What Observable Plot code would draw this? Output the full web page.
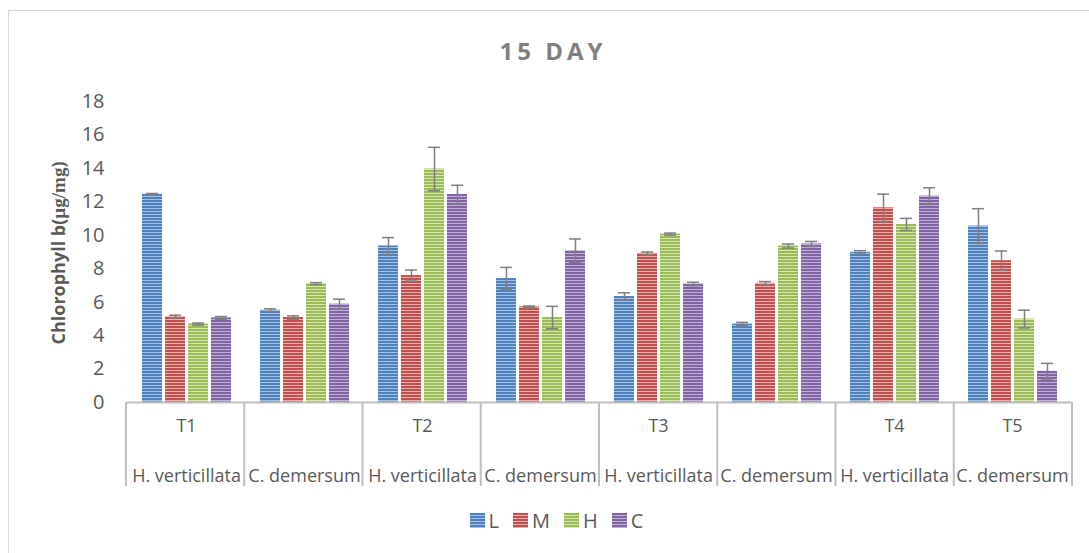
<!DOCTYPE html>
<html>
<head>
<meta charset="utf-8">
<script src="https://cdn.jsdelivr.net/npm/d3@7"></script>
<script src="https://cdn.jsdelivr.net/npm/@observablehq/plot@0.6"></script>
<style>
  html, body { margin:0; padding:0; background:#fff; }
  #wrap { position:relative; width:1089px; height:553px; overflow:hidden; font-family:"Open Sans", sans-serif; }
  #border { position:absolute; left:8px; top:10px; width:1100px; height:570px; border:1px solid #d9d9d9; box-sizing:border-box; }
  #title { position:absolute; left:8px; width:1090px; top:34px; text-align:center; font-weight:bold; font-size:24px; letter-spacing:4px; color:#7f7f7f; }
  #ylabel { position:absolute; left:58px; top:253px; transform:translate(-50%,-50%) rotate(-90deg); white-space:nowrap; font-weight:bold; font-size:18px; color:#595959; }
  #ylabel .u { font-family:"Liberation Serif", serif; font-size:19px; }
  #chart { position:absolute; left:0; top:0; }
  #legend { position:absolute; left:0; width:1089px; top:507px; display:flex; justify-content:center; padding-left:38px; box-sizing:border-box; font-size:20px; color:#595959; }
  .item { display:flex; align-items:center; margin-right:14px; }
  .sw { width:15px; height:15px; margin-right:4px; }
</style>
</head>
<body>
<div id="wrap">
  <div id="border"></div>
  <div id="title">15 DAY</div>
  <div id="chart"></div>
  <div id="ylabel">Chlorophyll b(<span class="u">µg/mg</span>)</div>
  <div id="legend"></div>
</div>
<script>
// ---- data ----
const topLabels = ["T1", "", "T2", "", "T3", "", "T4", "T5"];
const species = ["H. verticillata", "C. demersum", "H. verticillata", "C. demersum", "H. verticillata", "C. demersum", "H. verticillata", "C. demersum"];
const seriesNames = ["L", "M", "H", "C"];
const valuesL = [12.45, 5.52, 9.36, 7.41, 6.34, 4.69, 8.98, 10.55];
const valuesM = [5.14, 5.08, 7.59, 5.72, 8.92, 7.13, 11.64, 8.48];
const valuesH = [4.69, 7.11, 13.96, 5.08, 10.07, 9.36, 10.65, 4.99];
const valuesC = [5.06, 5.88, 12.44, 9.08, 7.09, 9.48, 12.34, 1.87];
const errL = [0.05, 0.08, 0.5, 0.67, 0.22, 0.1, 0.1, 1.04];
const errM = [0.08, 0.1, 0.33, 0.05, 0.08, 0.1, 0.82, 0.58];
const errH = [0.06, 0.06, 1.3, 0.67, 0.06, 0.12, 0.36, 0.53];
const errC = [0.08, 0.3, 0.55, 0.7, 0.1, 0.15, 0.5, 0.47];
const yTicks = [0, 2, 4, 6, 8, 10, 12, 14, 16, 18];

// ---- styles ----
const baseColors = {L: "#4f81bd", M: "#c0504d", H: "#9bbb59", C: "#8064a2"};
const lightColors = {L: "#a3c3ea", M: "#eeb0ae", H: "#d6e8b0", C: "#c4b1dc"};

const groupKeys = topLabels.map((_, i) => "g" + i);
const valueArrays = {L: valuesL, M: valuesM, H: valuesH, C: valuesC};
const errArrays = {L: errL, M: errM, H: errH, C: errC};
const table = [];
groupKeys.forEach((g, i) => {
  seriesNames.forEach(s => {
    table.push({g, s, v: valueArrays[s][i], e: errArrays[s][i]});
  });
});
const labelRows = groupKeys.map((g, i) => ({g, top: topLabels[i], bottom: species[i]}));

const plot = Plot.plot({
  width: 1089,
  height: 553,
  marginLeft: 126,
  marginRight: 17,
  marginTop: 101,
  marginBottom: 151,
  fx: {domain: groupKeys, padding: 0, axis: null},
  x: {domain: seriesNames, paddingInner: 0.152, paddingOuter: 0.64, axis: null},
  y: {domain: [0, 18], axis: null},
  color: {domain: seriesNames, range: seriesNames.map(s => `url(#pat${s})`)},
  style: {fontFamily: "Open Sans, sans-serif", fontSize: "19px", color: "#595959", background: "transparent"},
  marks: [
    // y tick labels, drawn only in the first facet (left edge of the frame)
    Plot.text(yTicks, {fx: () => groupKeys[0], y: d => d, text: d => String(d), frameAnchor: "left", textAnchor: "end", dx: -23, fontSize: 20, fill: "#595959"}),
    Plot.barY(table, {fx: "g", x: "s", y: "v", fill: "s"}),
    Plot.ruleX(table, {fx: "g", x: "s", y1: d => d.v - d.e, y2: d => d.v + d.e, stroke: "#7f7f7f", strokeWidth: 1.5}),
    Plot.tickY(table, {fx: "g", x: "s", y: d => d.v + d.e, stroke: "#7f7f7f", strokeWidth: 1.5, insetLeft: 4, insetRight: 4}),
    Plot.tickY(table, {fx: "g", x: "s", y: d => d.v - d.e, stroke: "#7f7f7f", strokeWidth: 1.5, insetLeft: 4, insetRight: 4}),
    Plot.ruleY([0], {stroke: "#bfbfbf", strokeWidth: 2}),
    Plot.text(labelRows, {fx: "g", text: "top", frameAnchor: "bottom", dy: 29, fontSize: 18, fill: "#595959"}),
    Plot.text(labelRows, {fx: "g", text: "bottom", frameAnchor: "bottom", dy: 79, fontSize: 18, fill: "#595959"})
  ]
});

// patterns for striped fills
const svg = d3.select(plot.tagName.toLowerCase() === "svg" ? plot : plot.querySelector("svg"));
const defs = svg.insert("defs", ":first-child");
seriesNames.forEach(s => {
  const p = defs.append("pattern").attr("id", "pat" + s).attr("patternUnits", "userSpaceOnUse")
    .attr("width", 4).attr("height", 3);
  p.append("rect").attr("width", 4).attr("height", 3).attr("fill", baseColors[s]);
  p.append("rect").attr("y", 1).attr("width", 4).attr("height", 1).attr("fill", lightColors[s]);
});

// category separators derived from the fx scale
const fx = plot.scale("fx");
const band = d3.scaleBand().domain(fx.domain).range(fx.range).padding(0);
const y = plot.scale("y");
const y0 = y.apply ? y.apply(0) : 402;
const edges = fx.domain.map(d => band(d)).concat([band(fx.domain[fx.domain.length - 1]) + band.bandwidth()]);
const sep = svg.append("g").attr("stroke", "#bfbfbf").attr("stroke-width", 2);
edges.forEach(x => {
  sep.append("line").attr("x1", x).attr("x2", x).attr("y1", y0).attr("y2", y0 + 84);
});

document.getElementById("chart").appendChild(plot);

// legend
const legend = document.getElementById("legend");
seriesNames.forEach(s => {
  const it = document.createElement("div");
  it.className = "item";
  const sw = document.createElement("div");
  sw.className = "sw";
  sw.style.background = `repeating-linear-gradient(180deg, ${baseColors[s]} 0px, ${baseColors[s]} 2px, ${lightColors[s]} 2px, ${lightColors[s]} 3px)`;
  const t = document.createElement("span");
  t.textContent = s;
  it.appendChild(sw);
  it.appendChild(t);
  legend.appendChild(it);
});
</script>
</body>
</html>
